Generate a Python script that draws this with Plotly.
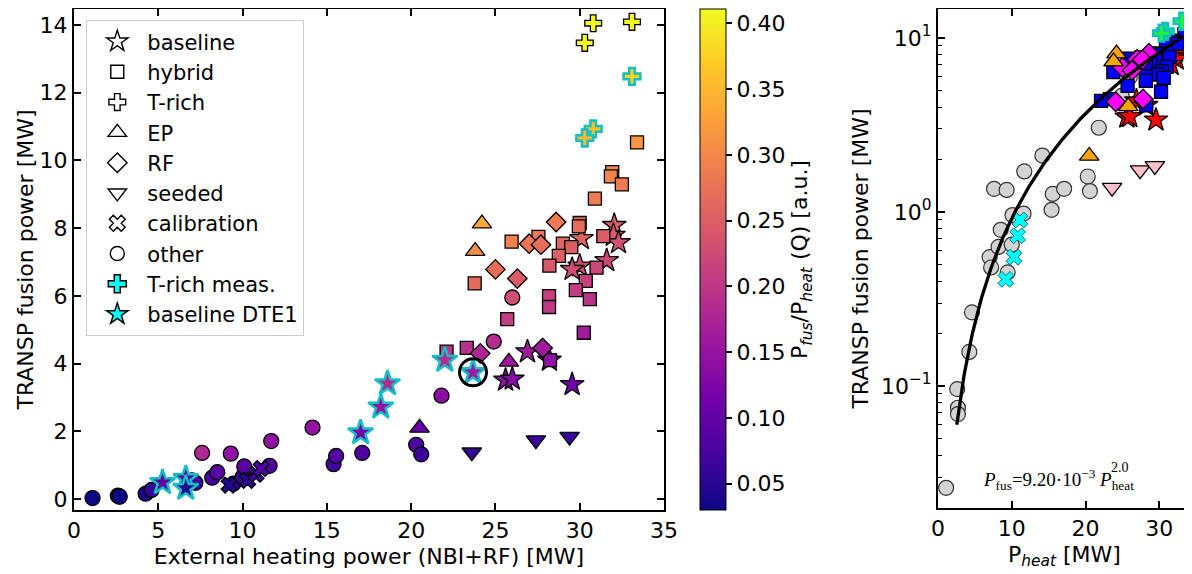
import numpy as np
import plotly.graph_objects as go

# ---------------- data ----------------
other_x = [1.1, 2.6, 2.7, 2.7, 4.25, 4.6, 7.0, 7.2, 8.2, 8.5, 9.45, 10.0, 10.1, 11.6,
           7.6, 9.3, 11.7, 14.15, 15.4, 15.55, 17.1, 20.3, 20.6, 21.8, 24.9, 26.0]
other_y = [0.026, 0.096, 0.075, 0.069, 0.157, 0.265, 0.55, 0.48, 0.63, 0.79, 0.45, 0.65, 0.96, 0.98,
           1.36, 1.34, 1.71, 2.11, 1.03, 1.27, 1.36, 1.60, 1.32, 3.05, 4.65, 5.95]
other_q = [0.03, 0.037, 0.03, 0.03, 0.037, 0.058, 0.079, 0.067, 0.077, 0.093, 0.048, 0.065, 0.095, 0.084,
           0.179, 0.144, 0.146, 0.149, 0.067, 0.082, 0.080, 0.079, 0.064, 0.140, 0.187, 0.229]

calib_x = [9.2, 10.3, 10.8, 11.1]
calib_y = [0.41, 0.55, 0.73, 0.90]
calib_q = [0.045, 0.053, 0.068, 0.081]

seeded_x = [23.6, 27.4, 29.4]
seeded_y = [1.38, 1.74, 1.84]
seeded_q = [0.058, 0.064, 0.063]

baseline_x = [32.05, 32.0, 30.1, 32.3, 31.6, 30.0, 29.55, 26.9, 28.2, 25.6, 26.0, 29.55]
baseline_y = [8.08, 7.79, 7.69, 7.57, 7.04, 6.88, 6.78, 4.35, 4.10, 3.51, 3.54, 3.38]
baseline_q = [0.252, 0.243, 0.255, 0.234, 0.223, 0.229, 0.229, 0.162, 0.145, 0.137, 0.136, 0.114]

hybrid_x = [33.4, 31.93, 31.85, 32.5, 30.9, 30.0, 29.95, 25.96, 27.55, 29.0, 29.5, 31.4, 28.76, 28.2,
            31.0, 30.36, 23.77, 29.77, 28.18, 30.6, 28.18, 25.7, 30.24, 23.3, 22.1, 28.24]
hybrid_y = [10.53, 9.65, 9.53, 9.29, 8.87, 8.15, 8.05, 7.6, 7.74, 7.54, 7.44, 7.76, 7.18, 6.89,
            6.83, 6.44, 6.37, 6.17, 5.99, 5.90, 5.67, 5.31, 4.91, 4.46, 4.35, 4.10]
hybrid_q = [0.315, 0.303, 0.299, 0.286, 0.287, 0.272, 0.269, 0.293, 0.281, 0.260, 0.252, 0.247, 0.250, 0.244,
            0.220, 0.212, 0.268, 0.207, 0.213, 0.193, 0.201, 0.207, 0.162, 0.191, 0.197, 0.145]

rf_x = [28.6, 27.0, 27.7, 25.0, 26.3, 24.1, 27.8]
rf_y = [8.18, 7.54, 7.51, 6.78, 6.51, 4.30, 4.46]
rf_q = [0.286, 0.279, 0.271, 0.271, 0.248, 0.178, 0.160]

ep_x = [24.2, 23.8, 25.8, 20.5]
ep_y = [8.13, 7.32, 4.05, 2.10]
ep_q = [0.336, 0.308, 0.157, 0.102]

trich_x = [30.8, 33.1, 30.3]
trich_y = [14.05, 14.09, 13.47]
trich_q = [0.41, 0.41, 0.41]

trichm_x = [33.1, 30.8, 30.3]
trichm_y = [12.48, 10.93, 10.66]
trichm_q = [0.377, 0.355, 0.352]

dte1_x = [22.0, 23.67, 18.6, 18.2, 17.0, 5.25, 6.63, 6.63]
dte1_y = [4.10, 3.74, 3.41, 2.72, 1.96, 0.49, 0.61, 0.32]
dte1_q = [0.186, 0.158, 0.183, 0.149, 0.115, 0.093, 0.092, 0.048]

highlight_x = [23.67]
highlight_y = [3.74]

# fit P_fus = a * P_heat^b
fit_a = 9.20e-3
fit_b = 2.0
fit_xmin, fit_xmax = 2.55, 33.3

# ---------------- figure ----------------
# The page body adds an 8 px margin, so the figure is 8 px smaller than the window
W, H = 1184, 566
OFF = 8


def px(xs):
    return (xs - OFF) / W


def py(ys):
    return (H - (ys - OFF)) / H


fig = go.Figure()
EDGE = dict(color="black", width=1.3)
CYAN_EDGE = "#12bfc4"

left_sets = [
    ("other", other_x, other_y, other_q, "circle", 15),
    ("calibration", calib_x, calib_y, calib_q, "x", 14),
    ("seeded", seeded_x, seeded_y, seeded_q, "triangle-down", 17),
    ("baseline", baseline_x, baseline_y, baseline_q, "star", 18),
    ("hybrid", hybrid_x, hybrid_y, hybrid_q, "square", 13),
    ("RF", rf_x, rf_y, rf_q, "diamond", 15),
    ("EP", ep_x, ep_y, ep_q, "triangle-up", 17),
    ("T-rich", trich_x, trich_y, trich_q, "cross", 14),
]
for name, xs, ys, qs, sym, sz in left_sets:
    fig.add_trace(go.Scatter(x=xs, y=ys, mode="markers", showlegend=False, name=name,
                             marker=dict(symbol=sym, size=sz, color=qs, coloraxis="coloraxis",
                                         line=EDGE),
                             xaxis="x", yaxis="y"))
fig.add_trace(go.Scatter(x=trichm_x, y=trichm_y, mode="markers", showlegend=False,
                         marker=dict(symbol="cross", size=14, color=trichm_q, coloraxis="coloraxis",
                                     line=dict(color=CYAN_EDGE, width=2.5)),
                         xaxis="x", yaxis="y"))
fig.add_trace(go.Scatter(x=dte1_x, y=dte1_y, mode="markers", showlegend=False,
                         marker=dict(symbol="star", size=19, color=dte1_q, coloraxis="coloraxis",
                                     line=dict(color=CYAN_EDGE, width=2.5)),
                         xaxis="x", yaxis="y"))
fig.add_trace(go.Scatter(x=highlight_x, y=highlight_y, mode="markers", showlegend=False,
                         marker=dict(symbol="circle-open", size=27, color="black",
                                     line=dict(color="black", width=3)),
                         xaxis="x", yaxis="y"))

# legend entries
leg = [("baseline", "star-open", 16), ("hybrid", "square-open", 13), ("T-rich", "cross-open", 14),
       ("EP", "triangle-up-open", 16), ("RF", "diamond-open", 15), ("seeded", "triangle-down-open", 16),
       ("calibration", "x-open", 14), ("other", "circle-open", 14)]
for name, sym, sz in leg:
    fig.add_trace(go.Scatter(x=[None], y=[None], mode="markers", name=name,
                             marker=dict(symbol=sym, size=sz, color="black", line=dict(width=1.4)),
                             xaxis="x", yaxis="y"))
fig.add_trace(go.Scatter(x=[None], y=[None], mode="markers", name="T-rich meas.",
                         marker=dict(symbol="cross", size=15, color="cyan", line=dict(color="black", width=1.5)),
                         xaxis="x", yaxis="y"))
fig.add_trace(go.Scatter(x=[None], y=[None], mode="markers", name="baseline DTE1",
                         marker=dict(symbol="star", size=16, color="cyan", line=dict(color="black", width=1.5)),
                         xaxis="x", yaxis="y"))

# right panel
right_sets = [
    (other_x, other_y, "circle", 15, "#d3d3d3", dict(color="#333333", width=1.2)),
    (calib_x, calib_y, "x", 14, "cyan", dict(color="#1a6a6a", width=1.0)),
    (seeded_x, seeded_y, "triangle-down", 17, "pink", EDGE),
    (baseline_x, baseline_y, "star", 18, "red", EDGE),
    (hybrid_x, hybrid_y, "square", 13, "blue", EDGE),
    (rf_x, rf_y, "diamond", 15, "magenta", EDGE),
    (ep_x, ep_y, "triangle-up", 17, "orange", EDGE),
    (trichm_x, trichm_y, "cross", 14, "#1ef03c", dict(color=CYAN_EDGE, width=2.5)),
]
for xs, ys, sym, sz, col, ln in right_sets:
    fig.add_trace(go.Scatter(x=xs, y=ys, mode="markers", showlegend=False,
                             marker=dict(symbol=sym, size=sz, color=col, line=ln),
                             xaxis="x2", yaxis="y2"))
fit_x = np.linspace(fit_xmin, fit_xmax, 200)
fig.add_trace(go.Scatter(x=fit_x, y=fit_a * fit_x ** fit_b, mode="lines", showlegend=False,
                         line=dict(color="black", width=3.3), xaxis="x2", yaxis="y2"))

FONT = "DejaVu Sans"
ax_common = dict(showline=True, linecolor="black", linewidth=2, mirror="ticks", ticks="inside",
                 ticklen=7, tickwidth=1.8, tickcolor="black", showgrid=False, zeroline=False,
                 automargin=False, tickfont=dict(family=FONT, size=22, color="black"))

minor_vals = [m * 10.0 ** e for e in (-2, -1, 0, 1) for m in range(2, 10)]

fig.update_layout(
    width=W, height=H, margin=dict(l=0, r=0, t=0, b=0, autoexpand=False),
    paper_bgcolor="white", plot_bgcolor="white",
    font=dict(family=FONT, size=22, color="black"),
    xaxis=dict(domain=[px(74), px(664)], range=[0, 35], tickvals=[0, 5, 10, 15, 20, 25, 30, 35],
               title=dict(text="External heating power (NBI+RF) [MW]", standoff=6,
                          font=dict(family=FONT, size=22)), anchor="y", **ax_common),
    yaxis=dict(domain=[py(510), py(9)], range=[-0.325, 14.47], tickvals=[0, 2, 4, 6, 8, 10, 12, 14],
               title=dict(text="TRANSP fusion power [MW]", standoff=0, font=dict(family=FONT, size=22)),
               anchor="x", **ax_common),
    xaxis2=dict(domain=[px(938), px(1191)], range=[0, 34.3], tickvals=[0, 10, 20, 30],
                title=dict(text="P<sub><i>heat</i></sub> [MW]", standoff=6, font=dict(family=FONT, size=22)),
                anchor="y2", **ax_common),
    yaxis2=dict(domain=[py(508), py(9)], type="log", range=[-1.701, 1.1667],
                tickvals=[0.1, 1, 10], ticktext=["10<sup>−1</sup>", "10<sup>0</sup>", "10<sup>1</sup>"],
                minor=dict(tickvals=minor_vals, ticks="inside", ticklen=4, tickwidth=1.3, tickcolor="black"),
                title=dict(text="TRANSP fusion power [MW]", standoff=6, font=dict(family=FONT, size=22)),
                anchor="x2", **ax_common),
    coloraxis=dict(colorscale="Plasma", cmin=0.03, cmax=0.411,
                   colorbar=dict(x=px(700), xanchor="left", y=py(510), yanchor="bottom",
                                 len=py(9) - py(510), lenmode="fraction", thickness=26, thicknessmode="pixels",
                                 outlinecolor="black", outlinewidth=1, xpad=0, ypad=0,
                                 tickvals=[0.05, 0.10, 0.15, 0.20, 0.25, 0.30, 0.35, 0.40],
                                 ticktext=["0.05", "0.10", "0.15", "0.20", "0.25", "0.30", "0.35", "0.40"],
                                 ticks="outside", ticklen=6, tickwidth=1.5, tickcolor="black",
                                 tickfont=dict(family=FONT, size=22, color="black"),
                                 title=dict(text="P<sub><i>fus</i></sub>/P<sub><i>heat</i></sub> (Q) [a.u.]",
                                            side="right", font=dict(family=FONT, size=22)))),
    legend=dict(x=px(86), y=py(20), xanchor="left", yanchor="top",
                bgcolor="rgba(255,255,255,0.85)", bordercolor="#cccccc", borderwidth=1.3,
                font=dict(family=FONT, size=21, color="black"), itemwidth=50),
    annotations=[
        dict(xref="paper", yref="paper", x=px(981), y=py(479), xanchor="left", yanchor="middle",
             text="<i>P</i><sub>fus</sub>=9.20·10<sup>−3</sup> <i>P</i><sub>heat</sub>", showarrow=False,
             font=dict(family="Liberation Serif", size=19, color="black")),
        dict(xref="paper", yref="paper", x=px(1109), y=py(467), xanchor="left", yanchor="middle",
             text="2.0", showarrow=False, font=dict(family="Liberation Serif", size=14, color="black")),
    ],
)

fig.write_html("out.html")
